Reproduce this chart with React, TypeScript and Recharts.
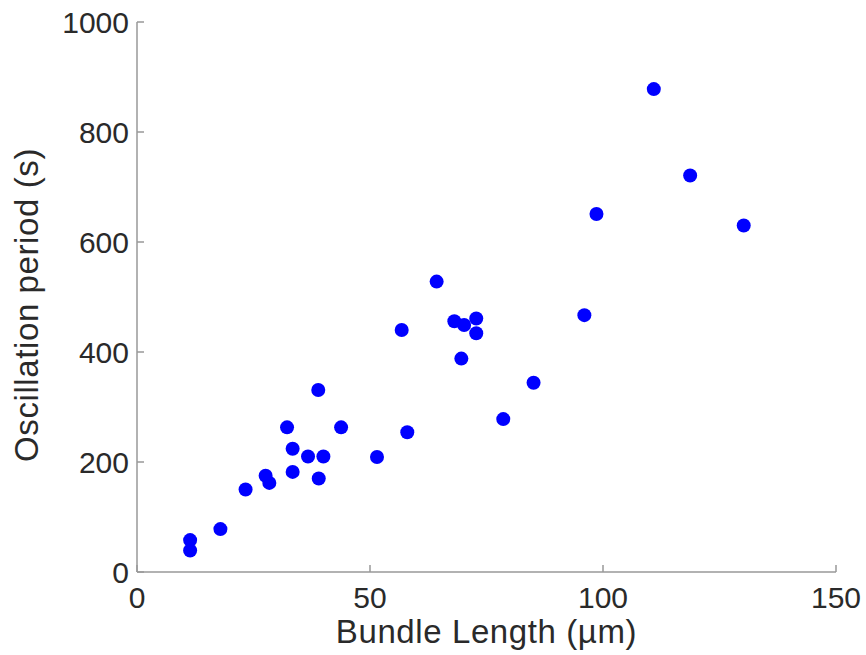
import { ScatterChart, Scatter, XAxis, YAxis } from 'recharts';

/* ─── Data ────────────────────────────────────────────────────────────────── */

const bundleLength = [
  11.4, 11.4, 17.9, 23.3, 27.6, 28.4, 32.2, 33.4, 33.4, 36.7,
  38.9, 40.0, 39.0, 43.8, 51.5, 56.8, 58.0, 64.3, 68.1, 70.2,
  72.8, 72.8, 69.6, 78.6, 85.1, 96.0, 98.6, 110.9, 118.7, 130.2,
];
const oscPeriod = [
  58, 39, 78, 150, 175, 162, 263, 224, 182, 210,
  331, 210, 170, 263, 209, 440, 254, 528, 456, 449,
  461, 434, 388, 278, 344, 467, 651, 878, 721, 630,
];
const xTicks = [0, 50, 100, 150];
const yTicks = [0, 200, 400, 600, 800, 1000];

const data = bundleLength.map((x, i) => ({ x, y: oscPeriod[i] }));

/* ─── Styles ──────────────────────────────────────────────────────────────── */

const FONT = '"Liberation Sans", Arial, Helvetica, sans-serif';
const AXIS = '#999999';
const TEXT = '#2a2a2a';
const TICK = { fill: TEXT, fontSize: 30, fontFamily: FONT };

const Dot = (p: any) => <circle cx={p.cx} cy={p.cy} r={7} fill="#0000ff" />;

const XLabel = ({ viewBox }: any) => (
  <text x={viewBox.x + viewBox.width / 2} y={viewBox.y + viewBox.height - 12}
    textAnchor="middle" fill={TEXT} fontSize={33} letterSpacing={0.6} fontFamily={FONT}>
    Bundle Length (µm)
  </text>
);

const YLabel = ({ viewBox }: any) => {
  const cx = 38;
  const cy = viewBox.y + viewBox.height / 2 + 8;
  return (
    <text x={cx} y={cy} transform={`rotate(-90, ${cx}, ${cy})`}
      textAnchor="middle" fill={TEXT} fontSize={33} letterSpacing={0.6} fontFamily={FONT}>
      Oscillation period (s)
    </text>
  );
};

export default function App() {
  return (
    <div style={{ position: 'absolute', left: 0, top: 0, background: '#fff' }}>
      <ScatterChart width={866} height={655} margin={{ top: 22, right: 30, left: 0, bottom: 0 }}>
        <XAxis xAxisId="b" type="number" dataKey="x" domain={[0, 150]} ticks={xTicks}
          height={83} tick={TICK} tickSize={-7} tickMargin={22}
          axisLine={{ stroke: AXIS, strokeWidth: 1.5 }} tickLine={{ stroke: AXIS, strokeWidth: 1.5 }}
          label={{ content: XLabel }} />
        <XAxis xAxisId="t" orientation="top" type="number" domain={[0, 150]} ticks={xTicks}
          height={0} tick={false} tickSize={-7}
          axisLine={{ stroke: AXIS, strokeWidth: 1.5 }} tickLine={{ stroke: AXIS, strokeWidth: 1.5 }} />
        <YAxis yAxisId="l" type="number" dataKey="y" domain={[0, 1000]} ticks={yTicks}
          width={137} tick={TICK} tickSize={-7} tickMargin={15}
          axisLine={{ stroke: AXIS, strokeWidth: 1.5 }} tickLine={{ stroke: AXIS, strokeWidth: 1.5 }}
          label={{ content: YLabel }} />
        <YAxis yAxisId="r" orientation="right" type="number" domain={[0, 1000]} ticks={yTicks}
          width={0} tick={false} tickSize={-7}
          axisLine={{ stroke: AXIS, strokeWidth: 1.5 }} tickLine={{ stroke: AXIS, strokeWidth: 1.5 }} />
        <Scatter data={data} xAxisId="b" yAxisId="l" shape={Dot} isAnimationActive={false} />
      </ScatterChart>
    </div>
  );
}
